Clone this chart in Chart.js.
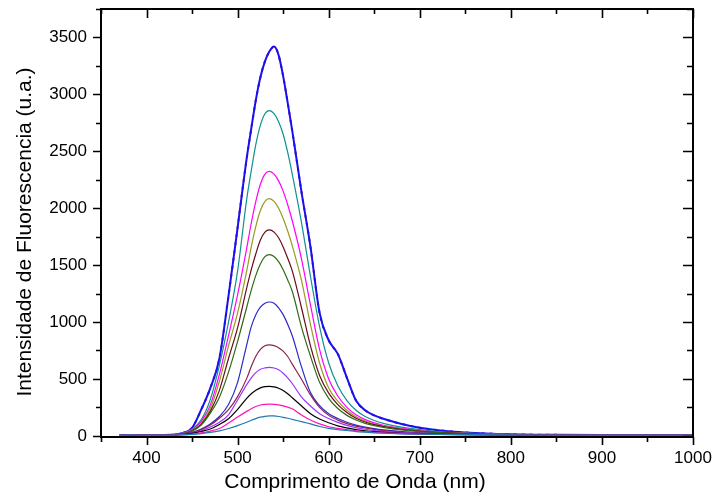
<!DOCTYPE html>
<html>
<head>
<meta charset="utf-8">
<script src="https://cdn.jsdelivr.net/npm/chart.js@4.4.1/dist/chart.umd.min.js"></script>
<style>
  html, body { margin: 0; padding: 0; background: #fff; }
  .wrap { width: 714px; height: 502px; position: relative; }
</style>
</head>
<body>
<div class="wrap"><canvas id="myChart"></canvas></div>
<script>
// wavelength axis (nm), shared by every curve
const wavelengths = [370, 380, 400, 420, 440, 450, 460, 470, 480, 490, 500,
    510, 515, 520, 525, 530, 535, 540, 545, 550, 555, 560,
    570, 580, 590, 600, 610, 620, 630, 640, 650, 660, 680, 700, 720, 750, 800, 850, 900, 950, 1000];

// intensities, lowest curve first
const curve01 = [3, 8, 7, 7, 9, 13, 20, 30, 44, 65, 90,
    120, 137, 152, 164, 172, 176, 175, 170, 163, 155, 145,
    125, 105, 82, 65, 55, 47, 38, 32, 27, 23, 17, 14, 12, 10, 8, 7, 6, 6, 6];
const curve02 = [3, 8, 7, 7, 10, 16, 26, 42, 65, 112, 165,
    215, 238, 258, 271, 277, 279, 277, 272, 264, 252, 238,
    184, 140, 105, 80, 66, 55, 45, 37, 31, 26, 19, 15, 12, 10, 8, 7, 6, 6, 6];
const curve03 = [3, 8, 7, 7, 12, 22, 38, 60, 100, 150, 232,
    330, 370, 400, 422, 432, 434, 430, 418, 398, 370, 335,
    265, 195, 148, 115, 88, 70, 55, 45, 37, 31, 22, 17, 13, 10, 8, 7, 6, 6, 6];
const curve04 = [3, 8, 7, 8, 14, 25, 45, 78, 120, 185, 315,
    450, 510, 555, 585, 597, 601, 596, 580, 550, 510, 460,
    343, 262, 195, 152, 118, 92, 72, 58, 47, 39, 28, 20, 15, 11, 8, 7, 6, 6, 6];
const curve05 = [3, 8, 7, 8, 15, 28, 55, 95, 155, 230, 345,
    505, 610, 700, 760, 792, 800, 793, 775, 745, 697, 630,
    500, 360, 250, 180, 138, 108, 86, 70, 57, 47, 34, 25, 18, 13, 9, 7, 6, 6, 6];
const curve06 = [3, 8, 7, 8, 16, 32, 60, 105, 170, 275, 470,
    800, 960, 1065, 1130, 1165, 1176, 1165, 1125, 1065, 980, 880,
    610, 380, 265, 195, 152, 120, 95, 77, 63, 52, 37, 27, 20, 14, 9, 7, 6, 6, 6];
const curve07 = [3, 8, 8, 8, 18, 42, 95, 200, 340, 560, 830,
    1130, 1280, 1410, 1510, 1575, 1592, 1575, 1530, 1460, 1370, 1270,
    960, 700, 470, 330, 240, 180, 140, 110, 90, 75, 52, 38, 28, 18, 11, 8, 7, 6, 6];
const curve08 = [3, 8, 8, 8, 18, 45, 100, 215, 400, 680, 950,
    1300, 1460, 1600, 1720, 1790, 1809, 1790, 1740, 1660, 1560, 1450,
    1130, 790, 530, 375, 275, 205, 155, 122, 98, 82, 57, 41, 30, 20, 12, 8, 7, 6, 6];
const curve09 = [3, 8, 8, 8, 20, 50, 110, 240, 480, 790, 1080,
    1450, 1660, 1840, 1980, 2060, 2084, 2060, 2000, 1910, 1800, 1670,
    1370, 980, 640, 420, 305, 225, 168, 130, 104, 86, 60, 43, 31, 21, 12, 8, 7, 6, 6];
const curve10 = [3, 8, 8, 8, 22, 55, 125, 270, 540, 880, 1240,
    1650, 1870, 2060, 2210, 2300, 2324, 2300, 2240, 2150, 2030, 1890,
    1560, 1150, 760, 500, 350, 250, 185, 143, 114, 93, 65, 46, 33, 22, 13, 8, 7, 6, 6];
const curve11 = [3, 8, 8, 8, 25, 60, 140, 320, 620, 1000, 1450,
    2080, 2330, 2560, 2730, 2830, 2858, 2830, 2760, 2650, 2490, 2300,
    1880, 1400, 960, 640, 440, 310, 225, 170, 135, 110, 76, 54, 38, 25, 14, 9, 7, 6, 6];
const curve12 = [3, 8, 8, 8, 25, 70, 230, 420, 680, 1230, 1830,
    2440, 2700, 2950, 3150, 3290, 3378, 3420, 3345, 3160, 2925, 2680,
    2150, 1660, 1080, 840, 720, 510, 310, 225, 180, 150, 105, 72, 50, 30, 14, 9, 7, 7, 7];

const xTickValues = [400, 500, 600, 700, 800, 900, 1000];
const yTickValues = [0, 500, 1000, 1500, 2000, 2500, 3000, 3500];
const xTitle = 'Comprimento de Onda (nm)';
const yTitle = 'Intensidade de Fluorescencia (u.a.)';

//styles
const series = [curve01, curve02, curve03, curve04, curve05, curve06, curve07, curve08, curve09, curve10, curve11];
const colors = ['#1f7ab5', '#ff14b4', '#000000', '#9933ff', '#8b2252', '#2b2bc8', '#2f6b14', '#6b0a1e', '#999922', '#ff00ff', '#109090'];
const fontFamily = '"Liberation Sans", Arial, sans-serif';

const toPoints = vals => vals.map((v, i) => ({ x: wavelengths[i], y: v }));

const lineDataset = (vals, color, width) => ({
    data: toPoints(vals),
    borderColor: color,
    borderWidth: width,
    pointRadius: 0,
    fill: false,
    cubicInterpolationMode: 'monotone'
});

const datasets = series.map((vals, i) => lineDataset(vals, colors[i], 1.2));
datasets.push(lineDataset(curve12, '#1a10ee', 2));
datasets.push({ ...lineDataset(curve12, '#7a1a9a', 2), borderDash: [3, 5] });

// frame, ticks and axis titles
const framePlugin = {
    id: 'frame',
    afterDraw(chart) {
        const { ctx, chartArea: a, scales: { x, y } } = chart;
        ctx.save();
        ctx.strokeStyle = '#000';
        ctx.lineWidth = 2;
        ctx.strokeRect(a.left, a.top, a.right - a.left, a.bottom - a.top);

        ctx.lineWidth = 1.6;
        ctx.beginPath();
        for (let v = 350; v <= 1000; v += 50) {
            const px = Math.round(x.getPixelForValue(v)) + 0.5;
            const major = v % 100 === 0;
            ctx.moveTo(px, a.bottom);
            ctx.lineTo(px, a.bottom + (major ? 8 : 5));
            ctx.moveTo(px, a.top);
            ctx.lineTo(px, a.top + (major ? 9 : 5));
        }
        for (let v = 0; v <= 3750; v += 250) {
            const py = Math.round(y.getPixelForValue(v)) + 0.5;
            const major = v % 500 === 0;
            ctx.moveTo(a.left, py);
            ctx.lineTo(a.left - (major ? 8 : 5), py);
            ctx.moveTo(a.right, py);
            ctx.lineTo(a.right - (major ? 10 : 6), py);
        }
        ctx.stroke();

        ctx.fillStyle = '#000';
        ctx.font = '21px ' + fontFamily;
        ctx.textAlign = 'center';
        ctx.textBaseline = 'alphabetic';
        ctx.fillText(xTitle, 355, 488);
        ctx.translate(31, 232);
        ctx.rotate(-Math.PI / 2);
        ctx.fillText(yTitle, 0, 0);
        ctx.restore();
    }
};

const canvas = document.getElementById('myChart');
const ctx = canvas.getContext('2d');

new Chart(ctx, {
    type: 'line',
    data: { datasets: datasets },
    plugins: [framePlugin],
    options: {
        responsive: true,
        maintainAspectRatio: false,
        animation: false,
        layout: { padding: { left: 0, right: 21, top: 9, bottom: 0 } },
        plugins: {
            legend: { display: false },
            tooltip: { enabled: false }
        },
        scales: {
            x: {
                type: 'linear',
                min: 350,
                max: 1000,
                grid: { display: false, drawTicks: false },
                border: { display: false },
                afterBuildTicks: s => { s.ticks = xTickValues.map(v => ({ value: v })); },
                afterFit: s => {
                    s.height = 65;
                    s.paddingLeft = 0;
                    s.paddingRight = 0;
                },
                ticks: {
                    color: '#000',
                    padding: 11,
                    maxRotation: 0,
                    callback: v => String(v),
                    font: { family: fontFamily, size: 17 }
                }
            },
            y: {
                type: 'linear',
                min: -10,
                max: 3750,
                grid: { display: false, drawTicks: false },
                border: { display: false },
                afterBuildTicks: s => { s.ticks = yTickValues.map(v => ({ value: v })); },
                afterFit: s => {
                    s.width = 101;
                    s.paddingTop = 0;
                    s.paddingBottom = 0;
                },
                ticks: {
                    color: '#000',
                    padding: 14,
                    callback: v => String(v),
                    font: { family: fontFamily, size: 17 }
                }
            }
        }
    }
});
</script>
</body>
</html>
